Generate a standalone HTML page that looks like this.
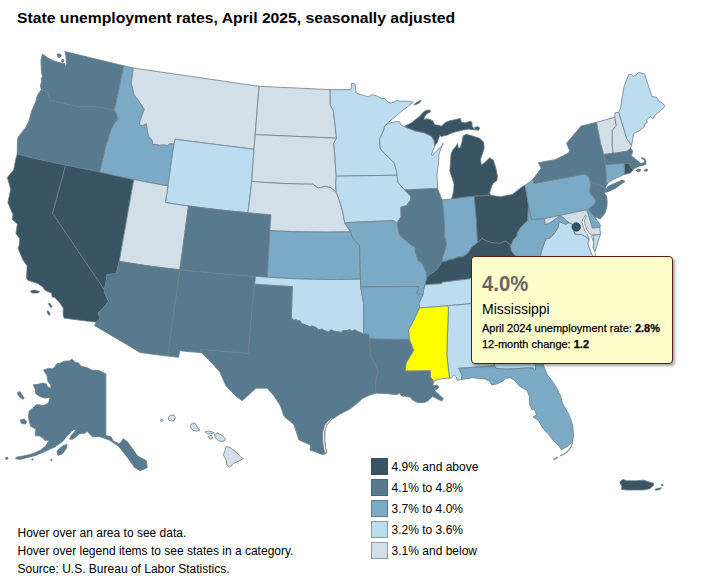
<!DOCTYPE html>
<html><head><meta charset="utf-8">
<style>
html,body{margin:0;padding:0;background:#fff;}
body{width:709px;height:580px;position:relative;overflow:hidden;font-family:"Liberation Sans",sans-serif;}
#title{position:absolute;left:17px;top:9px;font-size:15px;transform:scaleX(1.048);transform-origin:0 0;font-weight:bold;color:#000;white-space:nowrap;}
#map{position:absolute;left:0;top:0;}
#map path{stroke:#6f808c;stroke-width:0.8;stroke-linejoin:round;}
.leg{position:absolute;left:371px;width:15px;height:15px;border:1px solid rgba(60,70,80,0.45);}
.legt{position:absolute;left:391.6px;margin-top:1px;font-size:12px;color:#000;white-space:nowrap;}
.foot{position:absolute;left:17.5px;margin-top:1px;font-size:12px;color:#000;white-space:nowrap;}
#tip{position:absolute;left:471px;top:256px;width:200px;height:106px;background:#ffffcc;border:1px solid #5a1a1a;border-radius:4px;box-shadow:2px 2px 3px rgba(0,0,0,0.35);}
#tip .big{position:absolute;left:10px;top:13.5px;font-size:22.5px;transform:scaleX(0.9);transform-origin:0 0;font-weight:bold;color:#666;}
#tip .name{position:absolute;left:10px;top:44px;font-size:14px;color:#000;}
#tip .l1{position:absolute;left:10px;top:65px;font-size:11px;color:#000;white-space:nowrap;-webkit-text-stroke:0.25px #000;}
#tip .l2{position:absolute;left:10px;top:81px;font-size:11px;color:#000;white-space:nowrap;-webkit-text-stroke:0.25px #000;}
</style></head><body>
<div id="title">State unemployment rates, April 2025, seasonally adjusted</div>
<svg id="map" width="709" height="580" viewBox="0 0 709 580">
<path d="M41.5,89.5L40.3,85.7L41.9,81.0L40.9,79.0L42.4,76.9L41.4,70.7L40.9,60.3L42.4,54.1L47.6,57.8L53.8,60.9L61.0,62.9L64.7,63.6L65.5,67.8L66.4,63.4L65.9,56.2L64.9,51.5L123.8,65.8L115.8,104.0L114.2,110.2L96.5,107.0L76.9,106.6L65.5,104.0L50.2,100.2L47.7,92.6L41.5,89.5Z" fill="#587a8e"/>
<path d="M41.5,89.5L37.5,95.0L35.8,101.7L31.3,111.8L29.1,120.8L25.7,127.5L17.9,137.6L17.3,144.3L17.2,154.1L26.8,156.5L36.5,158.9L46.2,161.0L55.9,163.1L65.7,165.1L77.0,167.4L88.4,169.7L99.7,172.0L106.4,143.9L107.9,140.5L108.7,137.2L111.6,128.3L115.1,122.7L118.2,119.2L116.3,113.2L114.2,110.2L96.5,107.0L76.9,106.6L65.5,104.0L50.2,100.2L47.7,92.6L41.5,89.5Z" fill="#587a8e"/>
<path d="M17.2,154.1L16.0,158.0L13.6,169.9L7.3,177.5L10.7,189.1L7.9,202.5L13.0,214.7L12.3,219.4L17.4,224.1L15.9,233.5L19.7,238.5L19.4,244.1L18.1,248.6L22.9,259.9L27.1,265.7L26.5,278.0L28.2,280.4L37.8,283.6L42.8,286.9L44.8,290.2L48.2,291.8L51.6,293.1L52.0,297.0L54.6,297.6L57.9,300.7L60.0,303.3L63.2,307.9L63.1,315.4L64.2,318.2L96.3,322.3L100.0,319.0L98.4,312.7L102.1,309.1L108.6,301.5L104.2,292.0L104.6,290.1L52.6,213.3L65.7,165.1L55.9,163.1L46.2,161.0L36.5,158.9L26.8,156.5L17.2,154.1Z" fill="#395462"/>
<path d="M65.7,165.1L77.0,167.4L88.4,169.7L99.7,172.0L111.1,174.6L122.4,177.1L133.8,179.5L119.3,261.3L116.4,273.6L107.0,274.7L105.9,282.7L104.6,290.1L52.6,213.3L65.7,165.1Z" fill="#395462"/>
<path d="M133.3,68.0L123.8,65.8L115.8,104.0L114.2,110.2L116.3,113.2L118.2,119.2L115.1,122.7L111.6,128.3L108.7,137.2L107.9,140.5L106.4,143.9L99.7,172.0L111.1,174.6L122.4,177.1L133.8,179.5L145.2,181.8L156.6,183.9L168.0,185.9L173.9,144.1L172.2,143.8L169.9,143.5L167.6,145.5L163.7,144.8L159.7,145.2L156.4,144.4L153.0,144.7L152.1,139.9L148.5,136.2L147.3,130.0L146.4,123.7L142.3,125.8L139.5,124.4L140.2,120.2L144.3,109.2L138.8,100.9L134.0,94.7L133.3,91.2L131.2,83.0L133.3,68.0Z" fill="#7aaac5"/>
<path d="M133.3,68.0L259.1,86.3L255.2,134.6L254.0,149.3L175.3,139.3L173.9,144.1L172.2,143.8L169.9,143.5L167.6,145.5L163.7,144.8L159.7,145.2L156.4,144.4L153.0,144.7L152.1,139.9L148.5,136.2L147.3,130.0L146.4,123.7L142.3,125.8L139.5,124.4L140.2,120.2L144.3,109.2L138.8,100.9L134.0,94.7L133.3,91.2L131.2,83.0L133.3,68.0Z" fill="#d2dfe8"/>
<path d="M173.9,144.1L175.3,139.3L254.0,149.3L251.7,181.4L248.0,212.7L238.2,211.8L228.4,210.8L218.4,209.7L208.4,208.5L198.4,207.3L188.5,205.9L180.7,204.9L173.0,203.7L165.4,202.5L168.0,185.9L173.9,144.1Z" fill="#bcdcf0"/>
<path d="M133.8,179.5L145.2,181.8L156.6,183.9L168.0,185.9L165.4,202.5L173.0,203.7L180.7,204.9L188.5,205.9L179.9,269.7L169.7,268.6L159.6,267.4L149.5,266.1L139.5,264.6L129.4,263.0L119.3,261.3L133.8,179.5Z" fill="#d2dfe8"/>
<path d="M188.5,205.9L198.4,207.3L208.4,208.5L218.4,209.7L228.4,210.8L238.2,211.8L248.0,212.7L255.7,213.4L263.3,214.1L270.9,214.7L269.9,230.6L267.4,277.2L255.6,276.4L244.7,275.7L233.9,274.8L223.0,273.9L212.1,273.0L201.3,271.9L190.6,270.9L179.9,269.7L188.5,205.9Z" fill="#587a8e"/>
<path d="M119.3,261.3L129.4,263.0L139.5,264.6L149.5,266.1L159.6,267.4L169.7,268.6L179.9,269.7L167.7,356.1L158.5,355.0L149.3,353.8L140.1,352.5L94.4,325.4L96.3,322.3L100.0,319.0L98.4,312.7L102.1,309.1L108.6,301.5L104.2,292.0L104.6,290.1L105.9,282.7L107.0,274.7L116.4,273.6L119.3,261.3Z" fill="#587a8e"/>
<path d="M179.9,269.7L190.6,270.9L201.3,271.9L212.1,273.0L223.0,273.9L233.9,274.8L244.7,275.7L255.6,276.4L254.5,284.2L248.1,353.4L236.2,352.4L224.3,351.4L212.5,350.4L200.8,349.3L201.6,352.7L190.6,351.8L179.6,350.7L178.7,357.3L167.7,356.1L179.9,269.7Z" fill="#587a8e"/>
<path d="M259.1,86.3L330.2,89.6L330.3,104.6L333.4,110.8L336.5,138.2L255.2,134.6L259.1,86.3Z" fill="#d2dfe8"/>
<path d="M255.2,134.6L336.5,138.2L333.4,143.9L334.2,147.5L336.2,176.2L335.7,184.2L336.3,192.3L330.7,187.7L325.4,186.3L318.0,188.2L313.0,184.2L302.6,184.1L292.4,183.8L282.2,183.4L272.0,182.9L261.9,182.3L251.7,181.4L254.0,149.3L255.2,134.6Z" fill="#d2dfe8"/>
<path d="M251.7,181.4L261.9,182.3L272.0,182.9L282.2,183.4L292.4,183.8L302.6,184.1L313.0,184.2L318.0,188.2L325.4,186.3L330.7,187.7L336.3,192.3L339.3,200.1L341.7,208.0L342.7,212.0L344.7,222.7L350.5,231.8L338.8,232.0L327.1,232.1L315.5,232.0L304.0,231.9L292.6,231.6L281.2,231.2L269.9,230.6L270.9,214.7L263.3,214.1L255.7,213.4L248.0,212.7L251.7,181.4Z" fill="#d2dfe8"/>
<path d="M269.9,230.6L281.2,231.2L292.6,231.6L304.0,231.9L315.5,232.0L327.1,232.1L338.8,232.0L350.5,231.8L353.2,238.9L359.5,245.6L360.5,279.2L348.6,279.4L336.7,279.5L325.0,279.5L313.3,279.3L301.7,279.0L290.2,278.5L278.8,277.9L267.4,277.2L269.9,230.6Z" fill="#7aaac5"/>
<path d="M267.4,277.2L278.8,277.9L290.2,278.5L301.7,279.0L313.3,279.3L325.0,279.5L336.7,279.5L348.6,279.4L360.5,279.2L360.7,287.0L363.7,303.7L363.5,333.8L362.4,333.6L358.0,331.7L354.8,329.8L352.3,331.1L349.7,329.8L347.2,330.5L343.4,330.5L340.9,332.4L337.0,331.7L333.9,331.1L331.3,329.8L328.8,331.7L325.6,331.1L321.8,329.2L318.6,329.8L315.5,327.3L312.3,326.0L309.8,326.7L305.3,324.8L301.5,323.5L299.6,320.3L297.7,320.9L295.8,319.7L293.3,320.3L291.3,317.8L292.3,286.5L282.9,286.1L273.5,285.5L264.0,284.9L254.5,284.2L255.6,276.4L267.4,277.2Z" fill="#bcdcf0"/>
<path d="M254.5,284.2L264.0,284.9L273.5,285.5L282.9,286.1L292.3,286.5L291.3,317.8L293.3,320.3L295.8,319.7L297.7,320.9L299.6,320.3L301.5,323.5L305.3,324.8L309.8,326.7L312.3,326.0L315.5,327.3L318.6,329.8L321.8,329.2L325.6,331.1L328.8,331.7L331.3,329.8L333.9,331.1L337.0,331.7L340.9,332.4L343.4,330.5L347.2,330.5L349.7,329.8L352.3,331.1L354.8,329.8L358.0,331.7L362.4,333.6L363.5,333.8L369.0,334.3L369.5,339.0L370.5,355.5L374.8,363.2L377.9,371.0L376.1,378.9L375.6,386.8L375.2,393.4L369.3,395.2L362.4,398.6L355.5,404.8L350.0,408.9L343.1,412.4L336.2,416.5L331.5,419.5L327.0,424.5L325.0,431.0L324.8,440.0L325.5,447.0L326.8,452.5L325.5,454.0L321.7,454.4L315.5,451.7L310.0,450.3L310.5,445.0L299.0,440.0L293.8,424.5L284.1,416.4L280.3,405.6L273.7,395.4L267.1,388.2L256.0,388.2L242.2,400.8L236.5,396.5L234.7,394.9L225.8,385.7L220.1,372.3L212.8,364.0L201.6,352.7L200.8,349.3L212.5,350.4L224.3,351.4L236.2,352.4L248.1,353.4L254.5,284.2Z" fill="#587a8e"/>
<path d="M330.2,89.6L351.0,89.6L351.6,83.4L355.0,84.0L356.1,92.4L357.2,93.5L362.9,95.2L366.3,96.4L368.5,96.9L371.9,94.7L376.4,95.8L380.9,98.1L384.9,98.6L387.7,102.0L391.1,103.1L397.9,100.3L400.0,101.4L405.0,101.0L410.0,101.5L413.1,102.4L400.0,112.5L386.0,124.5L384.6,126.5L383.8,130.0L380.3,137.8L379.5,139.5L380.3,149.0L385.5,154.1L394.1,162.8L396.7,171.4L397.0,175.2L336.2,176.2L334.2,147.5L333.4,143.9L336.5,138.2L333.4,110.8L330.3,104.6L330.2,89.6Z" fill="#bcdcf0"/>
<path d="M336.2,176.2L397.0,175.2L398.1,182.6L404.6,190.0L410.7,196.0L410.6,200.0L406.6,205.6L400.9,207.2L401.1,217.0L398.0,221.2L397.7,223.9L393.7,220.6L344.7,222.7L342.7,212.0L341.7,208.0L339.3,200.1L336.3,192.3L335.7,184.2L336.2,176.2Z" fill="#bcdcf0"/>
<path d="M344.7,222.7L393.7,220.6L397.7,223.9L398.5,231.0L399.3,234.6L403.4,238.5L411.8,245.4L415.0,246.5L415.2,250.6L418.1,260.7L421.2,261.8L426.0,271.0L426.9,272.5L427.1,277.3L426.0,281.0L425.2,284.7L423.7,289.6L423.2,294.6L415.8,293.6L418.3,289.6L417.8,286.5L360.7,287.0L360.5,279.2L359.5,245.6L353.2,238.9L350.5,231.8L344.7,222.7Z" fill="#7aaac5"/>
<path d="M360.7,287.0L417.8,286.5L418.3,289.6L415.8,293.6L423.2,294.6L421.7,297.5L419.2,303.4L419.5,308.1L415.8,315.9L412.2,323.8L408.5,330.1L409.5,339.5L369.5,339.0L369.0,334.3L363.5,333.8L363.7,303.7L360.7,287.0Z" fill="#7aaac5"/>
<path d="M369.5,339.0L409.5,339.5L413.7,350.4L406.2,363.0L405.2,370.9L417.9,370.8L430.4,370.6L430.5,376.9L433.8,381.3L432.7,385.5L437.2,385.2L439.0,387.5L434.5,390.5L440.0,395.5L443.4,398.8L441.7,401.0L436.5,398.5L432.7,396.5L430.4,398.5L427.5,401.3L424.0,402.5L418.0,402.7L412.4,399.9L410.1,397.1L405.6,396.5L403.4,394.3L400.0,393.1L396.6,394.8L387.6,393.7L376.3,393.1L375.2,393.4L375.6,386.8L376.1,378.9L377.9,371.0L374.8,363.2L370.5,355.5L369.5,339.0Z" fill="#587a8e"/>
<path d="M386.0,124.5L392.4,122.2L399.3,121.4L401.0,124.8L404.5,126.6L414.8,130.7L424.5,132.8L431.4,136.2L434.1,140.3L434.8,145.9L431.4,154.1L432.1,155.5L443.1,144.5L442.8,143.1L439.0,154.1L438.3,165.2L436.9,174.8L437.6,187.2L437.6,188.4L404.6,190.0L398.1,182.6L397.0,175.2L396.7,171.4L394.1,162.8L385.5,154.1L380.3,149.0L379.5,139.5L380.3,137.8L383.8,130.0L384.6,126.5L386.0,124.5Z" fill="#bcdcf0"/>
<path d="M404.6,190.0L437.6,188.4L441.0,197.3L442.3,199.9L444.3,220.0L444.8,236.9L446.5,243.7L445.4,249.3L442.6,257.2L442.0,261.7L436.9,269.6L432.4,273.0L430.6,273.8L427.1,277.3L426.9,272.5L426.0,271.0L421.2,261.8L418.1,260.7L415.2,250.6L415.0,246.5L411.8,245.4L403.4,238.5L399.3,234.6L398.5,231.0L397.7,223.9L398.0,221.2L401.1,217.0L400.9,207.2L406.6,205.6L410.6,200.0L410.7,196.0L404.6,190.0Z" fill="#587a8e"/>
<path d="M442.3,199.9L451.6,198.8L474.2,196.0L476.4,220.0L477.5,242.6L471.9,247.1L467.4,253.8L462.9,256.7L457.2,257.2L453.9,258.9L449.3,259.5L446.0,261.2L442.0,261.7L442.6,257.2L445.4,249.3L446.5,243.7L444.8,236.9L444.3,220.0L442.3,199.9Z" fill="#7aaac5"/>
<path d="M474.2,196.0L490.3,195.2L500.4,196.8L512.3,194.4L522.0,186.9L525.1,185.2L528.6,205.5L528.4,207.2L527.8,220.5L520.5,227.8L517.5,232.6L516.9,236.2L513.3,239.8L511.5,244.6L510.3,244.6L505.4,241.0L500.0,243.3L493.3,243.1L487.7,241.4L482.1,238.6L477.5,242.6L476.4,220.0L474.2,196.0Z" fill="#395462"/>
<path d="M451.6,198.8L474.2,196.0L490.3,195.2L489.7,192.8L491.5,186.7L493.3,183.1L496.9,180.7L497.5,175.9L495.7,167.4L493.3,160.2L489.7,157.8L484.8,162.6L481.2,165.0L480.6,159.0L482.4,154.1L484.2,148.1L483.6,142.1L480.0,138.5L472.8,136.0L466.1,134.2L463.1,136.0L461.9,142.1L460.1,148.1L458.3,148.1L457.7,143.3L455.9,146.3L452.8,149.9L451.0,154.1L450.4,163.8L449.8,171.0L452.2,178.3L454.1,184.3L453.5,191.6L451.6,198.8ZM404.5,126.6L414.8,130.7L424.5,132.8L431.4,136.2L434.1,140.3L434.8,145.9L437.2,142.5L438.7,138.6L439.7,135.6L441.7,136.6L444.6,135.6L447.6,135.1L450.5,133.6L454.5,132.1L458.4,131.2L464.4,129.7L468.3,129.2L473.2,129.7L475.2,130.2L474.2,128.7L472.3,126.7L471.8,121.8L470.3,121.3L465.3,122.8L461.4,122.3L460.4,118.3L454.5,119.8L449.6,120.8L445.6,122.3L441.2,126.2L438.7,125.2L434.7,124.7L432.8,120.8L429.8,119.3L426.4,118.8L423.9,119.8L424.4,117.3L426.8,113.9L430.8,111.4L429.8,109.9L425.9,110.4L422.9,112.4L419.9,115.9L418.0,117.8L415.0,119.8L412.0,122.5L408.0,124.5L404.5,126.6Z" fill="#395462"/>
<path d="M427.1,277.3L430.6,273.8L432.4,273.0L436.9,269.6L442.0,261.7L446.0,261.2L449.3,259.5L453.9,258.9L457.2,257.2L462.9,256.7L467.4,253.8L471.9,247.1L477.5,242.6L482.1,238.6L487.7,241.4L493.3,243.1L500.0,243.3L505.4,241.0L510.3,244.6L511.5,250.7L515.1,255.5L522.0,262.0L519.7,256.2L512.1,266.1L501.0,274.2L470.0,278.8L442.4,282.2L441.5,283.7L425.2,284.7L426.0,281.0L427.1,277.3Z" fill="#395462"/>
<path d="M425.2,284.7L441.5,283.7L442.4,282.2L470.0,278.8L501.0,274.2L509.3,273.0L517.6,271.8L525.9,270.6L525.9,275.5L517.5,282.5L506.0,291.5L496.8,300.9L488.6,301.9L480.5,302.8L447.1,305.8L419.5,308.1L419.2,303.4L421.7,297.5L423.2,294.6L423.7,289.6L425.2,284.7Z" fill="#bcdcf0"/>
<path d="M447.1,305.8L480.5,302.8L490.0,336.7L493.7,342.0L493.3,350.2L494.5,365.8L458.8,368.3L462.2,375.2L461.4,379.5L457.1,380.3L456.3,376.9L454.2,374.8L451.1,378.2L449.5,378.2L446.8,355.6L448.4,307.4L447.1,305.8Z" fill="#bcdcf0"/>
<path d="M480.5,302.8L488.6,301.9L496.8,300.9L504.6,299.8L512.4,298.8L516.2,306.4L521.2,313.9L530.7,321.1L537.3,327.8L542.5,335.1L548.9,341.4L543.2,356.9L543.0,361.5L535.5,364.0L535.7,370.0L534.0,370.3L532.7,368.0L528.1,368.0L506.9,369.1L496.3,368.5L494.5,365.8L493.3,350.2L493.7,342.0L490.0,336.7L480.5,302.8Z" fill="#bcdcf0"/>
<path d="M494.5,365.8L496.3,368.5L506.9,369.1L528.1,368.0L532.7,368.0L534.0,370.3L535.7,370.0L535.5,364.0L543.0,361.5L543.4,365.2L546.9,373.8L555.5,385.9L560.7,396.2L562.4,403.1L569.3,415.2L572.8,425.5L573.6,435.9L572.8,441.0L567.6,446.2L561.6,449.7L559.0,446.2L552.1,439.3L548.6,434.1L543.4,429.0L538.3,420.3L533.0,417.0L536.5,414.5L534.0,409.0L532.2,410.0L529.7,404.8L529.5,397.0L527.2,390.5L523.8,388.8L518.8,385.4L514.5,380.3L510.3,377.8L505.2,378.2L503.5,380.7L499.3,382.8L496.3,384.1L491.7,385.0L490.0,381.6L485.0,379.0L472.4,377.8L461.4,379.5L462.2,375.2L458.8,368.3L494.5,365.8Z" fill="#7aaac5"/>
<path d="M548.9,341.4L542.5,335.1L537.3,327.8L530.7,321.1L521.2,313.9L516.2,306.4L512.4,298.8L522.0,294.1L537.9,292.4L539.5,293.8L542.1,297.5L556.2,294.7L573.4,307.5L570.1,310.6L566.6,316.9L559.4,328.1L553.6,333.2L548.9,341.4Z" fill="#bcdcf0"/>
<path d="M525.9,270.6L525.9,275.5L517.5,282.5L506.0,291.5L496.8,300.9L504.6,299.8L512.4,298.8L522.0,294.1L537.9,292.4L539.5,293.8L542.1,297.5L556.2,294.7L573.4,307.5L581.1,306.0L585.0,296.2L596.9,290.4L601.7,282.8L607.0,277.6L603.5,267.7L597.8,258.3L525.9,270.6Z" fill="#bcdcf0"/>
<path d="M525.9,270.6L597.8,258.3L600.0,264.0L594.5,257.5L592.0,254.5L589.3,248.1L588.0,243.6L589.3,240.0L588.9,239.1L585.5,236.5L581.7,234.6L575.0,234.1L574.0,231.5L576.2,226.5L572.0,224.1L569.4,222.6L565.8,224.1L559.1,221.7L557.9,227.8L553.1,235.0L550.7,237.4L548.3,238.6L545.9,238.6L544.6,242.2L541.6,250.7L540.4,255.5L536.0,262.0L530.0,266.0L519.7,256.2L512.1,266.1L501.0,274.2L509.3,273.0L517.6,271.8L525.9,270.6ZM600.5,234.5L598.5,240.0L596.9,246.1L594.8,251.8L593.8,251.5L593.3,246.0L593.5,240.0L593.8,236.4L591.5,235.0L600.5,234.5Z" fill="#bcdcf0"/>
<path d="M519.7,256.2L530.0,266.0L536.0,262.0L540.4,255.5L541.6,250.7L544.6,242.2L545.9,238.6L548.3,238.6L550.7,237.4L553.1,235.0L557.9,227.8L559.1,221.7L565.8,224.1L569.4,222.6L566.4,220.5L562.7,216.9L559.1,216.3L550.7,222.3L545.2,224.7L544.6,218.7L531.4,219.3L528.6,205.5L528.4,207.2L527.8,220.5L520.5,227.8L517.5,232.6L516.9,236.2L513.3,239.8L511.5,244.6L510.3,244.6L511.5,250.7L515.1,255.5L522.0,262.0L519.7,256.2Z" fill="#7aaac5"/>
<path d="M528.6,205.5L531.4,219.3L544.6,218.7L586.8,209.8L588.6,209.5L589.3,208.8L594.0,204.9L596.3,201.1L593.6,197.2L590.1,193.3L590.1,190.2L590.9,185.5L590.5,182.0L588.5,176.2L584.7,173.9L583.0,174.3L533.8,183.4L533.0,179.3L529.7,182.1L525.1,185.2L528.6,205.5Z" fill="#7aaac5"/>
<path d="M590.5,182.0L588.5,176.2L584.7,173.9L583.0,174.3L533.8,183.4L533.0,179.3L541.2,168.2L538.3,162.7L555.0,159.7L566.8,153.9L569.8,151.0L566.6,143.2L581.1,126.0L596.6,122.3L598.0,129.9L600.8,143.7L603.7,154.5L605.5,164.8L606.5,181.0L607.0,184.0L605.5,187.5L590.5,182.0ZM604.1,192.5L608.0,186.3L614.2,183.6L622.3,180.1L625.0,181.3L620.4,184.8L614.9,188.6L608.0,191.7L604.1,192.5Z" fill="#587a8e"/>
<path d="M590.5,182.0L605.5,187.5L605.5,190.5L604.1,193.0L606.4,195.6L607.2,201.1L606.8,207.3L604.8,213.5L602.7,216.0L600.3,218.8L594.8,217.1L592.3,214.8L590.3,212.0L588.6,209.5L589.3,208.8L594.0,204.9L596.3,201.1L593.6,197.2L590.1,193.3L590.1,190.2L590.9,185.5L590.5,182.0Z" fill="#587a8e"/>
<path d="M586.8,209.8L588.6,209.5L590.3,212.0L592.3,214.8L594.8,217.1L597.3,220.5L599.0,223.2L600.5,225.5L599.9,227.4L592.3,228.1L586.8,209.8Z" fill="#7aaac5"/>
<path d="M544.6,218.7L586.8,209.8L592.3,228.1L599.9,227.4L600.5,234.5L591.5,235.0L588.9,239.1L585.5,236.5L581.7,234.6L575.0,234.1L574.0,231.5L576.2,226.5L572.0,224.1L569.4,222.6L566.4,220.5L562.7,216.9L559.1,216.3L550.7,222.3L545.2,224.7L544.6,218.7Z" fill="#d2dfe8"/>
<path d="M596.6,122.3L614.8,117.2L616.3,125.6L612.3,130.5L612.3,145.0L613.0,153.4L603.7,154.5L600.8,143.7L598.0,129.9L596.6,122.3Z" fill="#d2dfe8"/>
<path d="M614.8,117.2L614.9,112.8L618.8,112.3L626.7,138.4L631.6,145.3L630.7,148.3L627.1,151.3L613.0,153.4L612.3,145.0L612.3,130.5L616.3,125.6L614.8,117.2Z" fill="#d2dfe8"/>
<path d="M618.8,112.3L620.7,107.8L622.4,95.5L624.3,85.4L628.7,74.6L630.6,74.2L633.8,76.5L638.9,72.4L644.6,74.0L646.5,80.3L652.2,96.8L656.3,97.0L659.2,101.9L662.2,102.9L664.6,105.5L664.5,107.0L663.2,108.3L659.2,111.8L655.3,114.7L653.3,118.7L650.3,116.7L646.4,119.7L647.4,122.6L645.4,123.6L643.4,127.6L639.5,130.5L633.6,133.5L631.6,145.3L626.7,138.4L618.8,112.3Z" fill="#bcdcf0"/>
<path d="M613.0,153.4L627.1,151.3L630.7,148.3L632.8,151.0L631.4,155.9L634.1,157.9L637.6,160.7L640.3,163.4L643.8,162.8L644.5,160.7L643.1,159.3L641.0,158.3L642.1,157.8L644.5,158.5L645.9,160.7L646.0,164.1L643.1,165.5L639.0,166.2L636.2,167.6L633.4,169.0L632.8,170.0L630.5,166.5L629.5,163.4L624.2,163.4L605.5,164.8L603.7,154.5L613.0,153.4Z" fill="#587a8e"/>
<path d="M624.2,163.4L629.5,163.4L630.5,166.5L632.8,170.0L631.0,172.5L628.5,173.5L624.5,174.5L624.2,163.4Z" fill="#395462"/>
<path d="M605.5,164.8L624.2,163.4L624.5,174.5L615.0,178.6L610.0,181.5L607.0,184.0L606.5,181.0L605.5,164.8Z" fill="#7aaac5"/>
<path d="M419.5,308.1L447.1,305.8L448.4,307.4L446.8,355.6L449.5,378.2L442.8,378.6L437.7,379.5L433.8,381.3L430.5,376.9L430.4,370.6L417.9,370.8L405.2,370.9L406.2,363.0L413.7,350.4L409.5,339.5L408.5,330.1L412.2,323.8L415.8,315.9L419.5,308.1Z" fill="#ffff00"/>
<path d="M43.5,370.1L48.3,368.4L52.6,368.8L54.7,367.1L56.9,363.6L60.0,363.3L64.2,361.2L69.9,360.8L71.6,359.1L75.5,362.2L79.0,363.3L80.8,366.1L86.8,367.5L91.7,370.0L99.5,370.7L105.9,373.9L105.9,435.6L111.0,436.7L113.1,440.8L119.3,443.9L123.4,438.7L127.5,441.8L137.9,456.3L146.2,460.4L147.2,467.7L140.0,470.8L134.8,467.7L129.6,460.4L123.4,452.2L118.2,446.0L108.9,439.8L99.6,436.7L92.4,436.7L87.2,431.5L84.1,433.6L80.0,433.6L77.2,435.8L72.7,439.2L69.4,439.2L71.6,434.7L75.0,431.4L76.1,429.1L72.7,430.2L68.2,434.7L62.6,441.4L54.8,447.0L44.7,451.5L35.8,455.4L26.8,457.7L20.1,459.4L15.6,458.8L16.7,457.1L23.4,456.0L32.4,453.8L40.2,450.4L45.8,445.9L49.2,440.3L44.7,440.3L43.0,438.1L39.1,435.8L35.2,435.8L35.8,429.1L30.7,426.3L29.6,422.4L28.5,417.9L29.0,411.2L32.4,408.4L36.9,404.5L43.6,405.6L48.5,403.0L50.0,397.2L44.8,398.1L39.7,396.4L35.8,393.8L35.3,389.5L33.2,384.7L37.9,384.3L43.1,383.0L46.6,384.3L47.4,386.9L50.9,388.2L50.9,385.2L47.8,380.9L47.0,375.7L44.8,372.2ZM17.6,392.5L20.0,391.5L22.0,395.0L24.2,398.0L23.0,399.5L20.0,397.0L18.0,395.0ZM20.1,420.0L24.0,419.0L26.8,421.5L25.5,424.0L21.5,423.5ZM57.6,450.4L62.6,445.9L67.1,444.2L66.5,448.2L62.6,453.8L58.2,455.4L57.0,452.6ZM5.5,457.5L7.5,457.0L8.0,459.0L6.0,459.5ZM31.8,459.0L33.0,458.8L33.0,460.0L31.8,460.0ZM50.8,459.4L52.0,459.3L52.0,460.5L50.8,460.5Z" fill="#587a8e"/>
<path d="M160.2,420.0L162.5,419.3L163.0,420.8L161.0,421.8ZM168.4,417.0L170.5,415.2L174.0,415.2L175.5,417.7L174.0,420.8L171.2,421.2L168.4,419.8ZM190.3,425.5L192.4,423.1L195.2,423.3L197.3,427.6L199.9,430.1L197.3,431.1L193.1,430.4L191.0,428.3ZM205.1,431.8L208.6,431.1L214.2,432.5L212.1,433.9L207.2,433.5ZM208.6,436.0L211.4,435.3L212.8,438.1L210.7,439.6L209.0,438.1ZM214.2,434.6L217.8,433.2L222.0,435.3L225.5,438.9L224.1,441.0L219.9,441.4L216.4,438.9ZM226.2,446.6L229.8,447.3L235.4,451.5L240.3,456.5L243.2,458.6L238.2,461.4L233.3,463.5L229.8,467.1L226.9,465.6L226.2,460.0L223.4,455.1L224.8,450.8Z" fill="#d2dfe8"/>
<path d="M619.7,482.3L622.7,479.4L626.9,480.7L635.4,480.7L643.8,480.2L648.9,481.9L653.6,483.2L653.6,485.3L649.8,488.7L643.8,490.0L635.4,490.0L626.9,490.0L621.4,489.5L621.8,486.2ZM654.8,489.5L658.0,488.2L661.6,487.8L660.0,489.6L656.0,490.3ZM661.5,484.3L663.0,484.3L662.8,485.8L661.3,485.6Z" fill="#395462"/>
<path d="M30.3,291.0L34.0,290.0L39.8,291.5L38.0,293.0L32.0,293.0ZM48.3,303.6L50.0,303.4L52.1,306.5L51.0,307.6L49.5,305.5ZM47.0,311.0L48.5,311.0L50.2,314.5L49.0,315.2L47.5,313.0Z" fill="#395462"/>
<path d="M636.2,170.2L638.5,169.0L641.0,169.6L639.5,171.7L637.0,171.4ZM643.8,170.5L646.0,169.0L648.0,169.8L646.5,171.4Z" fill="#587a8e"/>
<path d="M413.8,104.6L417.0,102.2L421.2,100.0L420.0,102.5L415.5,104.8ZM474.6,127.5L477.5,126.6L479.8,128.0L478.5,130.3L475.5,129.8Z" fill="#395462"/>
<path d="M400.0,393.6L403.0,392.6L405.6,395.5L403.5,396.5L401.0,395.2Z" fill="#587a8e"/>
<path d="M57.0,54.5L59.5,53.8L61.5,55.5L60.0,57.5L58.0,57.0ZM61.5,60.0L63.5,59.0L64.0,61.5L62.0,62.2Z" fill="#587a8e"/>
<path d="M585.7,215.3L582.6,219.4L581.9,222.5L583.5,226.5L584.8,231.0L587.1,233.7L588.4,237.3L589.3,240.0L588.0,243.6L589.3,248.1L591.5,253.5L593.8,257.0L596.0,257.0L594.7,251.7L592.9,247.2L593.8,242.7L592.4,239.1L591.5,235.5L589.3,232.8L586.6,229.2L585.3,225.6L584.4,220.3L586.2,216.2Z" fill="#fff"/>
<path d="M331.0,419.0L326.0,424.5L323.6,432.0L323.6,441.0L324.8,449.0L325.5,452.0" fill="none" style="stroke:#888;stroke-width:2.4;stroke-linecap:round"/>
<path d="M331.0,419.0L326.0,424.5L323.6,432.0L323.6,441.0L324.8,449.0L325.5,452.0" fill="none" style="stroke:#fff;stroke-width:1.0;stroke-linecap:round"/>
<path d="M572.8,440.5L571.5,446.0L568.5,450.5L564.5,453.8L560.5,455.8" fill="none" style="stroke:#888;stroke-width:1.1;stroke-linecap:round"/>
<path d="M557.5,457.5L553.8,459.3" fill="none" style="stroke:#888;stroke-width:1.4;stroke-linecap:round"/>
<circle cx="576.2" cy="227.0" r="4.2" fill="#395462" style="stroke:#2a3a46;stroke-width:0.8"/>
</svg>
<div class="leg" style="top:458px;background:#395462"></div><div class="legt" style="top:459px">4.9% and above</div>
<div class="leg" style="top:479px;background:#587a8e"></div><div class="legt" style="top:480px">4.1% to 4.8%</div>
<div class="leg" style="top:500px;background:#7aaac5"></div><div class="legt" style="top:501px">3.7% to 4.0%</div>
<div class="leg" style="top:521px;background:#bcdcf0"></div><div class="legt" style="top:522px">3.2% to 3.6%</div>
<div class="leg" style="top:542px;background:#d2dfe8"></div><div class="legt" style="top:543px">3.1% and below</div>
<div class="foot" style="top:525px">Hover over an area to see data.</div>
<div class="foot" style="top:543px">Hover over legend items to see states in a category.</div>
<div class="foot" style="top:561px">Source: U.S. Bureau of Labor Statistics.</div>
<div id="tip">
<div class="big">4.0%</div>
<div class="name">Mississippi</div>
<div class="l1">April 2024 unemployment rate: <b>2.8%</b></div>
<div class="l2">12-month change: <b>1.2</b></div>
</div>
</body></html>
